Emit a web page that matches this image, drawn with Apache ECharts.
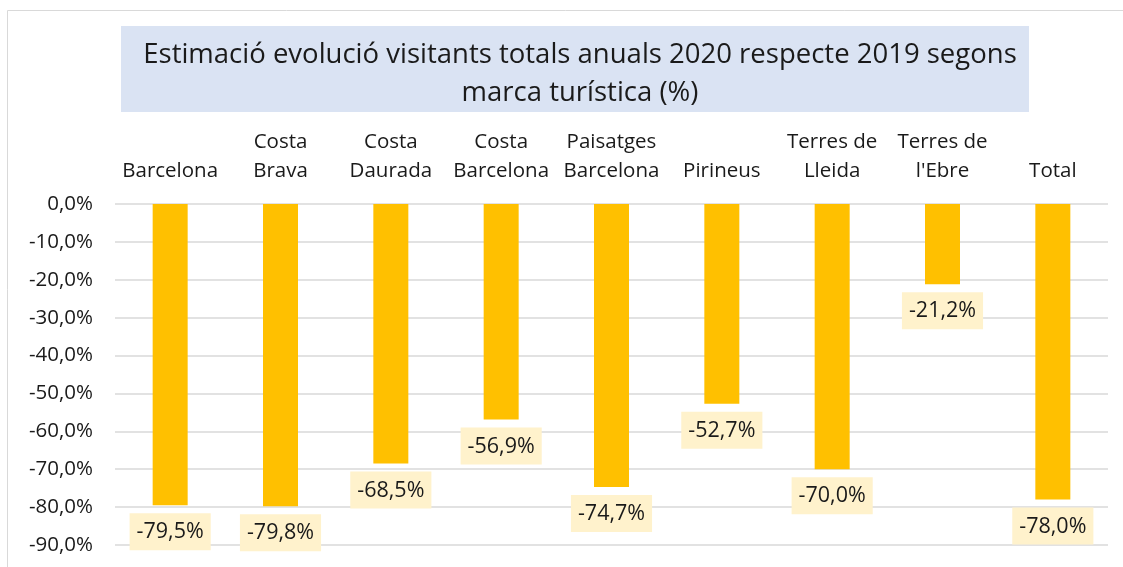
<!DOCTYPE html>
<html><head><meta charset="utf-8">
<script src="https://cdn.jsdelivr.net/npm/echarts@6/dist/echarts.min.js"></script>
<style>html,body{margin:0;padding:0;background:#fff}#c{width:1123px;height:567px}</style>
</head><body><div id="c"></div>
<script>
const titleText = "Estimació evolució visitants totals anuals 2020 respecte 2019 segons\nmarca turística (%)";
const categories = ["Barcelona", "Costa\nBrava", "Costa\nDaurada", "Costa\nBarcelona", "Paisatges\nBarcelona", "Pirineus", "Terres de\nLleida", "Terres de\nl'Ebre", "Total"];
const values = [-79.5, -79.8, -68.5, -56.9, -74.7, -52.7, -70.0, -21.2, -78.0];
const yMin = -90, yMax = 0, yStep = 10;

const font = "'Open Sans', sans-serif";
const fmt = v => v.toFixed(1).replace('.', ',') + '%';
const chart = echarts.init(document.getElementById('c'), null, {renderer: 'canvas'});
chart.setOption({
  animation: false,
  graphic: [
    {type: 'rect', shape: {x: 7.5, y: 10.5, width: 1130, height: 570}, style: {fill: 'none', stroke: '#d9d9d9', lineWidth: 1}, z: -10},
    {type: 'rect', shape: {x: 121, y: 26, width: 908, height: 86}, style: {fill: '#dae3f3'}, z: -5}
  ],
  title: {
    text: titleText, left: 575, top: 31, textAlign: 'center',
    textStyle: {fontFamily: font, fontSize: 27.5, fontWeight: 'normal', color: '#1a1a1a', lineHeight: 38}
  },
  grid: {left: 115, right: 15, top: 204, bottom: 22, containLabel: false},
  xAxis: {
    type: 'category', data: categories, position: 'top',
    axisLine: {show: false}, axisTick: {show: false},
    axisLabel: {fontFamily: font, fontSize: 20.5, color: '#1a1a1a', margin: 18, lineHeight: 29, interval: 0}
  },
  yAxis: {
    type: 'value', min: yMin, max: yMax, interval: yStep,
    axisLine: {show: false}, axisTick: {show: false},
    axisLabel: {fontFamily: font, fontSize: 20.5, color: '#1a1a1a', margin: 22, formatter: v => fmt(v)},
    splitLine: {lineStyle: {color: '#d9d9d9', width: 1.5}}
  },
  series: [{
    type: 'bar', data: values, barWidth: 35,
    itemStyle: {color: '#ffc000'},
    label: {
      show: true, position: 'bottom', distance: 8,
      formatter: p => fmt(p.value),
      fontFamily: font, fontSize: 21.5, color: '#1a1a1a', lineHeight: 22,
      backgroundColor: '#fff2cc', padding: [8, 7, 7, 7]
    }
  }]
});
</script></body></html>
